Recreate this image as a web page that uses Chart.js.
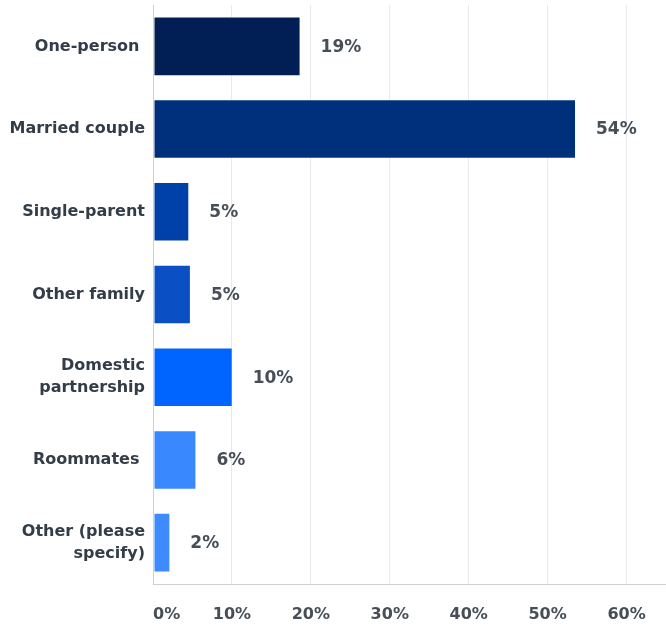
<!DOCTYPE html>
<html>
<head>
<meta charset="utf-8">
<script src="https://cdn.jsdelivr.net/npm/chart.js@4/dist/chart.umd.min.js"></script>
<style>
  html, body { margin: 0; padding: 0; background: #ffffff; }
  #wrap { width: 666px; height: 627px; position: relative; }
</style>
</head>
<body>
<div id="wrap"><canvas id="chart"></canvas></div>
<script>
// household types and share of respondents (%)
const categories = [
    'One-person ',
    'Married couple',
    'Single-parent',
    'Other family',
    ['Domestic', 'partnership'],
    'Roommates ',
    ['Other (please', 'specify)']
];
const shares = [18.7, 53.6, 4.6, 4.8, 10.1, 5.5, 2.2];
const barColors = ['#011e55', '#00307b', '#0040a9', '#0a4fc4', '#0064ff', '#3a88fd', '#3d8bff'];
const tickValues = [0, 10, 20, 30, 40, 50, 60];

const fontFamily = "'DejaVu Sans', sans-serif";

// percentage text to the right of each bar
const valueLabels = {
    id: 'valueLabels',
    afterDatasetsDraw(chart) {
        const ctx = chart.ctx;
        const xScale = chart.scales.x;
        const meta = chart.getDatasetMeta(0);
        ctx.save();
        ctx.font = 'bold 17px ' + fontFamily;
        ctx.fillStyle = '#474e56';
        ctx.textAlign = 'left';
        ctx.textBaseline = 'middle';
        meta.data.forEach((bar, i) => {
            const v = chart.data.datasets[0].data[i];
            ctx.fillText(Math.round(v) + '%', xScale.getPixelForValue(v) + 20, bar.y + 1);
        });
        ctx.restore();
    }
};

new Chart(document.getElementById('chart'), {
    type: 'bar',
    data: {
        labels: categories,
        datasets: [{
            data: shares,
            backgroundColor: barColors,
            borderColor: 'rgba(255,255,255,0.25)',
            borderWidth: 1,
            borderSkipped: false,
            categoryPercentage: 1,
            barPercentage: 0.72
        }]
    },
    options: {
        indexAxis: 'y',
        responsive: true,
        maintainAspectRatio: false,
        animation: false,
        layout: { padding: { top: 5, right: 0, left: 0, bottom: 0 } },
        plugins: {
            legend: { display: false },
            tooltip: { enabled: false }
        },
        scales: {
            x: {
                min: 0,
                max: 65,
                afterBuildTicks(axis) {
                    axis.ticks = tickValues.concat([65]).map(v => ({ value: v }));
                },
                afterFit(axis) {
                    axis.height = 43;
                    axis.paddingLeft = 0;
                    axis.paddingRight = 0;
                },
                grid: {
                    color: ctx => (ctx.tick && ctx.tick.value > 60) ? 'rgba(0,0,0,0)' : '#e9e9e9',
                    drawTicks: false
                },
                border: { color: '#cfcfcf', width: 1 },
                ticks: {
                    align: 'inner',
                    padding: 21,
                    color: '#474e56',
                    font: { family: fontFamily, size: 16, weight: 'bold' },
                    callback: v => v > 60 ? '' : v + '%'
                }
            },
            y: {
                afterFit(axis) {
                    axis.width = 153;
                    axis.paddingTop = 0;
                    axis.paddingBottom = 0;
                },
                grid: { display: false, drawTicks: false },
                border: { color: '#cfcfcf', width: 1 },
                ticks: {
                    padding: 8,
                    color: '#333d47',
                    font: { family: fontFamily, size: 16, weight: 'bold', lineHeight: 1.375 }
                }
            }
        }
    },
    plugins: [valueLabels]
});
</script>
</body>
</html>
